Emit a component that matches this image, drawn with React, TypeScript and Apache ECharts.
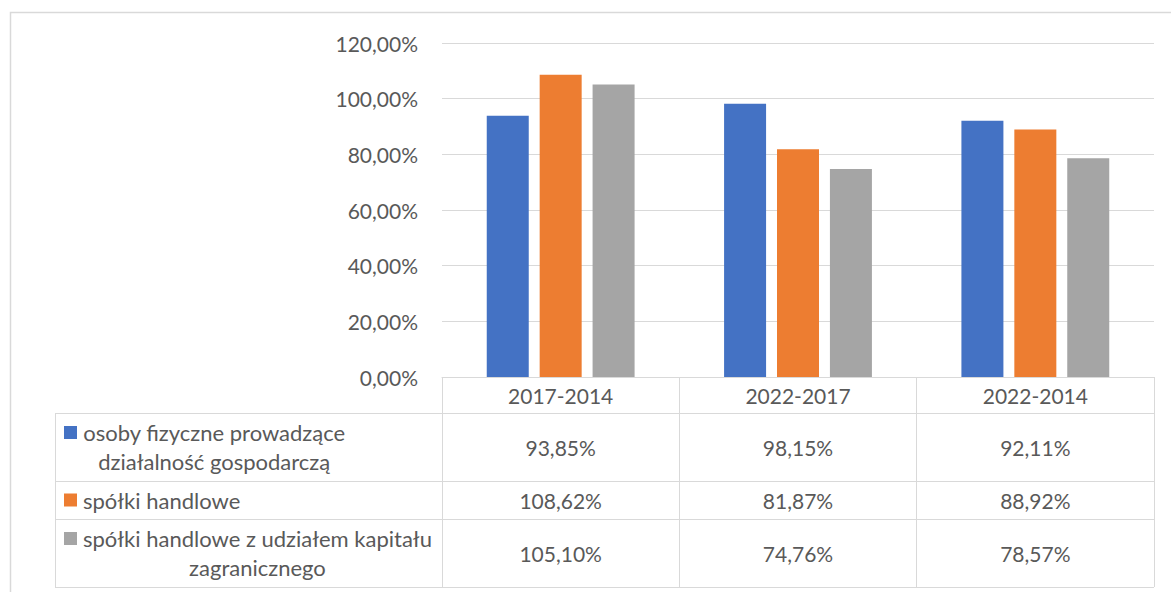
import React, { useEffect, useRef } from 'react';
import * as echarts from 'echarts';

// ---- data ----
const categories = ['2017-2014', '2022-2017', '2022-2014'];
const seriesNames = [
  'osoby fizyczne prowadzące działalność gospodarczą',
  'spółki handlowe',
  'spółki handlowe z udziałem kapitału zagranicznego',
];
const seriesLabelLines = [
  ['osoby fizyczne prowadzące', 'działalność gospodarczą'],
  ['spółki handlowe'],
  ['spółki handlowe z udziałem kapitału', 'zagranicznego'],
];
const osobyFizyczne = [0.9385, 0.9815, 0.9211];
const spolkiHandlowe = [1.0862, 0.8187, 0.8892];
const spolkiZagraniczne = [1.051, 0.7476, 0.7857];
const seriesValues = [osobyFizyczne, spolkiHandlowe, spolkiZagraniczne];
const yMin = 0;
const yMax = 1.2;
const yInterval = 0.2;

// ---- style / layout ----
const colors = ['#4472C4', '#ED7D31', '#A5A5A5'];
const textColor = '#595959';
const lineColor = '#D9D9D9';
const FONT_FAMILY = 'Lato';
const FONT_SIZE = 21;
const LEGEND_FONT_SIZE = 22;
const W = 1171;
const H = 592;
const gridLeft = 442;
const gridRight = 1154;
const gridTop = 43;
const gridBottom = 377;
const tableLeft = 55;
const rowLines = [413, 481, 519, 587];
const legendTextLeft = 83;
const legendBoxLeft = 64;
const legendBox = 13;
const lineH = 29;

const fmtPct = (v: number) => (v * 100).toFixed(2).replace('.', ',') + '%';

function measure(text: string): number {
  const c = document.createElement('canvas');
  const ctx = c.getContext('2d');
  if (!ctx) return text.length * 10;
  ctx.font = `${LEGEND_FONT_SIZE}px ${FONT_FAMILY}`;
  return ctx.measureText(text).width;
}

export default function App() {
  const ref = useRef<HTMLDivElement>(null);

  useEffect(() => {
    if (!ref.current) return;
    const chart = echarts.init(ref.current, undefined, { renderer: 'svg' });

    chart.setOption({
      animation: false,
      backgroundColor: '#FFFFFF',
      textStyle: { fontFamily: FONT_FAMILY },
      grid: {
        left: gridLeft,
        right: W - gridRight,
        top: gridTop,
        bottom: H - gridBottom,
        containLabel: false,
      },
      xAxis: {
        type: 'category',
        data: categories,
        axisLine: { show: true, lineStyle: { color: lineColor, width: 1 } },
        axisTick: {
          show: true,
          alignWithLabel: false,
          interval: 0,
          length: rowLines[rowLines.length - 1] - gridBottom,
          lineStyle: { color: lineColor, width: 1 },
        },
        axisLabel: {
          color: textColor,
          fontSize: FONT_SIZE,
          fontFamily: FONT_FAMILY,
          margin: 8,
          lineHeight: 20,
          interval: 0,
        },
      },
      yAxis: {
        type: 'value',
        min: yMin,
        max: yMax,
        interval: yInterval,
        axisLine: { show: false },
        axisTick: { show: false },
        splitLine: { show: true, lineStyle: { color: lineColor, width: 1 } },
        axisLabel: {
          color: textColor,
          fontSize: FONT_SIZE,
          fontFamily: FONT_FAMILY,
          margin: 24,
          formatter: (v: number) => fmtPct(v),
        },
      },
      series: seriesNames.map((name, i) => ({
        type: 'bar',
        name,
        data: seriesValues[i],
        barWidth: 42,
        barGap: '26%',
        itemStyle: { color: colors[i] },
      })),
    });

    const elements: any[] = [];
    elements.push({
      type: 'rect',
      shape: { x: 10.5, y: 12.5, width: W + 20, height: H + 20 },
      style: { fill: 'none', stroke: lineColor, lineWidth: 1.5 },
      silent: true,
    });
    rowLines.forEach((y) => {
      elements.push({
        type: 'line',
        shape: { x1: tableLeft, y1: y + 0.5, x2: gridRight, y2: y + 0.5 },
        style: { stroke: lineColor, lineWidth: 1 },
        silent: true,
      });
    });
    elements.push({
      type: 'line',
      shape: { x1: tableLeft + 0.5, y1: rowLines[0], x2: tableLeft + 0.5, y2: rowLines[rowLines.length - 1] },
      style: { stroke: lineColor, lineWidth: 1 },
      silent: true,
    });

    seriesNames.forEach((_, i) => {
      const top = rowLines[i];
      const bottom = rowLines[i + 1];
      const center = (top + bottom) / 2;
      const lines = seriesLabelLines[i];
      const firstLineY = center - ((lines.length - 1) * lineH) / 2;
      const maxW = Math.max(...lines.map(measure));
      elements.push({
        type: 'rect',
        shape: { x: legendBoxLeft, y: firstLineY - legendBox / 2, width: legendBox, height: legendBox },
        style: { fill: colors[i] },
        silent: true,
      });
      elements.push({
        type: 'text',
        x: legendTextLeft + maxW / 2,
        y: center,
        style: {
          text: lines.join('\n'),
          fill: textColor,
          fontSize: LEGEND_FONT_SIZE,
          fontFamily: FONT_FAMILY,
          lineHeight: lineH,
          align: 'center',
          verticalAlign: 'middle',
        },
        silent: true,
      });
      categories.forEach((cat, j) => {
        const px = chart.convertToPixel({ xAxisIndex: 0 }, cat) as number;
        elements.push({
          type: 'text',
          x: px,
          y: center,
          style: {
            text: fmtPct(seriesValues[i][j]),
            fill: textColor,
            fontSize: FONT_SIZE,
            fontFamily: FONT_FAMILY,
            align: 'center',
            verticalAlign: 'middle',
          },
          silent: true,
        });
      });
    });

    chart.setOption({ graphic: { elements } });

    return () => {
      chart.dispose();
    };
  }, []);

  return (
    <div
      ref={ref}
      style={{ position: 'absolute', left: 0, top: 0, width: W, height: H }}
    />
  );
}
